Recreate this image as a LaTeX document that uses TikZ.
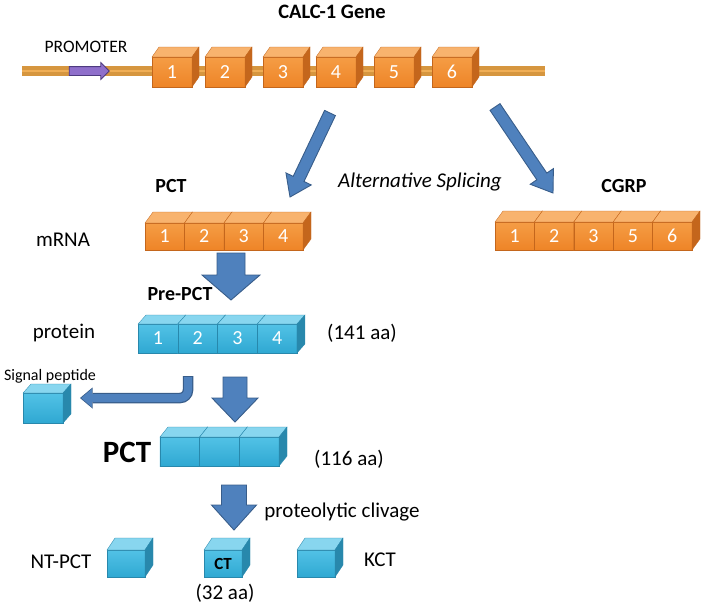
\documentclass[tikz,border=0pt]{standalone}
\usepackage{fontspec}
\setmainfont{Carlito}
\usetikzlibrary{calc,shapes.arrows,arrows.meta}

\definecolor{exonfront}{HTML}{EE8427}
\definecolor{exonlight}{HTML}{F59D45}
\definecolor{exontop}{HTML}{F8B36E}
\definecolor{exonside}{HTML}{C4661C}
\definecolor{protfront}{HTML}{2FA8D2}
\definecolor{protlight}{HTML}{52C2E6}
\definecolor{prottop}{HTML}{88D6EF}
\definecolor{protside}{HTML}{2888AC}
\definecolor{arrowblue}{HTML}{4F81BD}
\definecolor{arrowedge}{HTML}{385D8A}
\definecolor{genewire}{HTML}{F0AE55}
\definecolor{wireedge}{HTML}{D6963F}
\definecolor{promfill}{HTML}{8F6FCB}
\definecolor{promedge}{HTML}{4E3A80}

\tikzstyle{exon front}=[draw=exonside,line width=0.4pt,top color=exonlight,
    bottom color=exonfront,text=white,inner sep=0pt,outer sep=0pt,
    font=\fontsize{20}{20}\selectfont]
\tikzstyle{exon top}=[fill=exontop,draw=exonside,line width=0.3pt]
\tikzstyle{exon side}=[fill=exonside,draw=exonside,line width=0.3pt]
\tikzstyle{prot front}=[draw=protside,line width=0.4pt,top color=protlight,
    bottom color=protfront,text=white,inner sep=0pt,outer sep=0pt,
    font=\fontsize{20}{20}\selectfont]
\tikzstyle{prot top}=[fill=prottop,draw=protside,line width=0.3pt]
\tikzstyle{prot side}=[fill=protside,draw=protside,line width=0.3pt]
\tikzstyle{plain text}=[anchor=base,inner sep=0pt,font=\fontsize{21}{21}\selectfont]
\tikzstyle{bold text}=[plain text,font=\fontsize{20}{20}\selectfont\bfseries]
\tikzstyle{small text}=[plain text,font=\fontsize{16}{16}\selectfont]
\tikzstyle{gene wire}=[draw=wireedge,line width=3.6pt,double=genewire,double distance=2pt]
\tikzstyle{promoter arrow}=[single arrow,fill=promfill,draw=promedge,line width=0.8pt,
    minimum height=40pt,single arrow head extend=4pt,inner sep=4pt]
\tikzstyle{block arrow}=[fill=arrowblue,draw=arrowedge,line width=0.9pt,line join=miter]
\tikzstyle{bent edge}=[draw=arrowedge,line width=10.5pt,rounded corners=8pt,
    -{Triangle[width=21pt,length=12.5pt,line width=0pt]}]
\tikzstyle{bent body}=[draw=arrowblue,line width=8pt,rounded corners=8pt,
    shorten >=1.3pt,shorten <=1pt,-{Triangle[width=18pt,length=10.5pt,line width=0pt]}]

\newcommand{\depthx}{8}
\newcommand{\depthy}{10}
\newcommand{\cube}[5][]{
    \node[#5 front,#1] (#3) at (#2) {#4};
    \filldraw[#5 top] (#3.north west) -- ++(\depthx,-\depthy) --
        ($(#3.north east)+(\depthx,-\depthy)$) -- (#3.north east) -- cycle;
    \filldraw[#5 side] (#3.north east) -- ++(\depthx,-\depthy) --
        ($(#3.south east)+(\depthx,-\depthy)$) -- (#3.south east) -- cycle;
}
\newcommand{\blockarrow}[5]{
    \coordinate (#2-base) at ($(#2)!#5!(#1)$);
    \filldraw[block arrow] ($(#1)!#3!90:(#2)$) -- ($(#2-base)!#3!90:(#2)$) --
        ($(#2-base)!#4!90:(#2)$) -- (#2) -- ($(#2-base)!#4!-90:(#2)$) --
        ($(#2-base)!#3!-90:(#2)$) -- ($(#1)!#3!-90:(#2)$) -- cycle;
}

\begin{document}
\begin{tikzpicture}[x=1pt,y=-1pt]
    \useasboundingbox (0,0) rectangle (709,606);
    \node[bold text,font=\fontsize{20.5}{20.5}\selectfont\bfseries] (title) at (332,18.5) {CALC-1 Gene};
    \node[plain text,font=\fontsize{17.5}{17.5}\selectfont] (promtext) at (86,52) {PROMOTER};
    %
    \coordinate (wirestart) at (22,71);
    \coordinate (wireend) at (545,71);
    \draw[gene wire] (wirestart) -- (wireend);
    \node[promoter arrow] (prom) at (87,71) {};
    %
    \renewcommand{\depthx}{7}\renewcommand{\depthy}{10}
    \cube[minimum width=40pt,minimum height=30pt]{172,72}{e1}{1}{exon}
    \cube[minimum width=40pt,minimum height=30pt]{225,72}{e2}{2}{exon}
    \cube[minimum width=40pt,minimum height=30pt]{283,72}{e3}{3}{exon}
    \cube[minimum width=40pt,minimum height=30pt]{336,72}{e4}{4}{exon}
    \cube[minimum width=40pt,minimum height=30pt]{394,72}{e5}{5}{exon}
    \cube[minimum width=40pt,minimum height=30pt]{452,72}{e6}{6}{exon}
    %
    \coordinate (splitL) at (330,113);
    \coordinate (splitLtip) at (290,197);
    \coordinate (splitR) at (495,107);
    \coordinate (splitRtip) at (553,193);
    \blockarrow{splitL}{splitLtip}{6pt}{14pt}{20pt}
    \blockarrow{splitR}{splitRtip}{6pt}{14pt}{20pt}
    \node[bold text] (pcthead) at (171,192) {PCT};
    \node[plain text,font=\fontsize{21}{21}\selectfont\itshape] (splice) at (420,187.5) {Alternative Splicing};
    \node[bold text] (cgrphead) at (624,192) {CGRP};
    %
    \node[plain text] (mrna) at (63,246) {mRNA};
    \renewcommand{\depthx}{8}\renewcommand{\depthy}{11}
    \cube[minimum width=39.5pt,minimum height=27pt]{164.75,236.5}{m1}{1}{exon}
    \cube[minimum width=39.5pt,minimum height=27pt]{204.25,236.5}{m2}{2}{exon}
    \cube[minimum width=39.5pt,minimum height=27pt]{243.75,236.5}{m3}{3}{exon}
    \cube[minimum width=39.5pt,minimum height=27pt]{283.25,236.5}{m4}{4}{exon}
    %
    \cube[minimum width=39.4pt,minimum height=28pt]{514.7,236}{c1}{1}{exon}
    \cube[minimum width=39.4pt,minimum height=28pt]{554.1,236}{c2}{2}{exon}
    \cube[minimum width=39.4pt,minimum height=28pt]{593.5,236}{c3}{3}{exon}
    \cube[minimum width=39.4pt,minimum height=28pt]{632.9,236}{c5}{5}{exon}
    \cube[minimum width=39.4pt,minimum height=28pt]{672.3,236}{c6}{6}{exon}
    %
    \coordinate (transl) at (231,253);
    \coordinate (translTip) at (231,300);
    \blockarrow{transl}{translTip}{14pt}{29pt}{25pt}
    \node[bold text] (prepct) at (180,300) {Pre-PCT};
    %
    \node[plain text] (protein) at (64,338.5) {protein};
    \renewcommand{\depthx}{8}\renewcommand{\depthy}{9}
    \cube[minimum width=39.75pt,minimum height=29pt]{157.9,338.5}{p1}{1}{prot}
    \cube[minimum width=39.75pt,minimum height=29pt]{197.6,338.5}{p2}{2}{prot}
    \cube[minimum width=39.75pt,minimum height=29pt]{237.4,338.5}{p3}{3}{prot}
    \cube[minimum width=39.75pt,minimum height=29pt]{277.1,338.5}{p4}{4}{prot}
    \node[plain text] (aa141) at (362,339) {(141 aa)};
    %
    \node[small text] (sigtext) at (50,380) {Signal peptide};
    \cube[minimum width=40pt,minimum height=30pt]{43,408}{sig}{}{prot}
    \coordinate (sigstart) at (188,376);
    \coordinate (sigtip) at (80,398);
    \draw[bent edge] (sigstart) |- (sigtip);
    \draw[bent body] (sigstart) |- (sigtip);
    %
    \coordinate (cleave) at (235,377);
    \coordinate (cleaveTip) at (235,422);
    \blockarrow{cleave}{cleaveTip}{12pt}{23pt}{24pt}
    %
    \node[bold text,font=\fontsize{31}{31}\selectfont\bfseries] (pctbig) at (127,462) {PCT};
    \renewcommand{\depthx}{8}\renewcommand{\depthy}{10}
    \cube[minimum width=39.7pt,minimum height=29pt]{179.8,451.5}{q1}{}{prot}
    \cube[minimum width=39.7pt,minimum height=29pt]{219.5,451.5}{q2}{}{prot}
    \cube[minimum width=39.7pt,minimum height=29pt]{259.2,451.5}{q3}{}{prot}
    \node[plain text] (aa116) at (349,465) {(116 aa)};
    %
    \coordinate (proteo) at (234,485);
    \coordinate (proteoTip) at (234,530);
    \blockarrow{proteo}{proteoTip}{12.5pt}{22.5pt}{25pt}
    \node[plain text] (clivage) at (342,517) {proteolytic clivage};
    %
    \renewcommand{\depthx}{8}\renewcommand{\depthy}{12}
    \node[plain text] (ntpcttext) at (61,568) {NT-PCT};
    \cube[minimum width=38pt,minimum height=27pt]{126,563.5}{ntpct}{}{prot}
    \cube[minimum width=38pt,minimum height=27pt,text=black,font=\fontsize{17}{17}\selectfont\bfseries]{223,563.5}{ct}{CT}{prot}
    \node[plain text] (aa32) at (225,599) {(32 aa)};
    \cube[minimum width=38pt,minimum height=27pt]{316,563.5}{kct}{}{prot}
    \node[plain text] (kcttext) at (380,566) {KCT};
\end{tikzpicture}
\end{document}
